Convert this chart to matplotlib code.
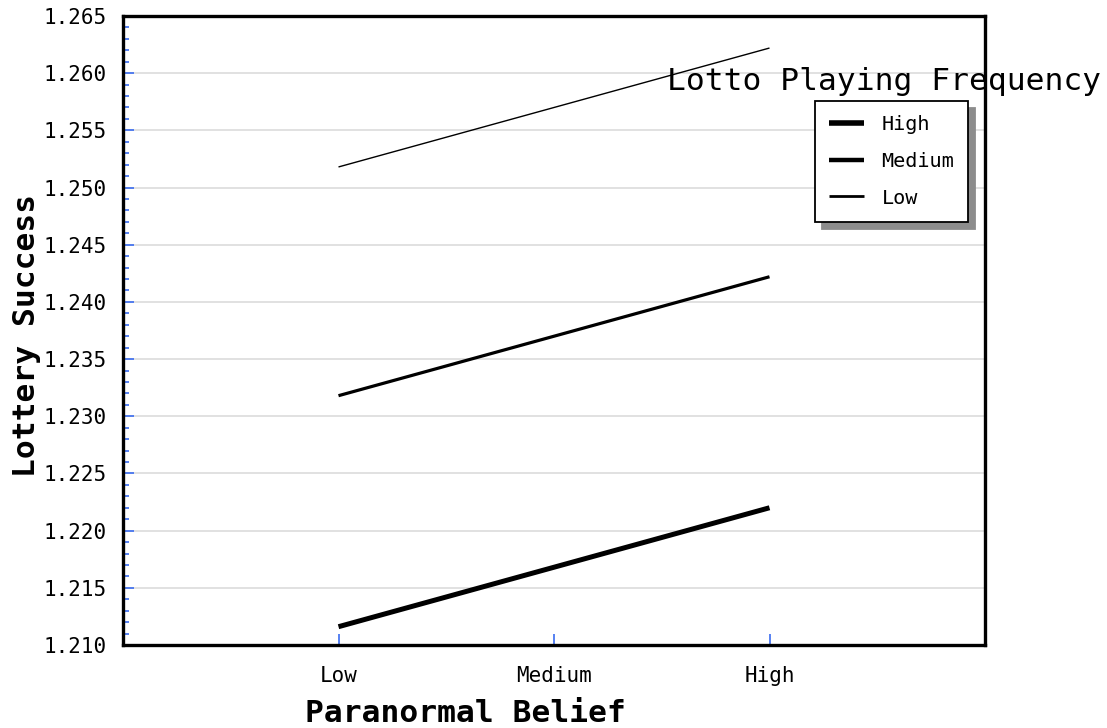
import matplotlib
matplotlib.use("Agg")
import matplotlib.pyplot as plt
from matplotlib.ticker import MultipleLocator, FormatStrFormatter

# Predicted lottery success by paranormal belief, per lotto playing frequency
belief_levels = ["Low", "Medium", "High"]
freq_high = [1.2116, 1.2168, 1.2220]
freq_medium = [1.2318, 1.2370, 1.2422]
freq_low = [1.2518, 1.2570, 1.2622]

series = [
    ("High", freq_high, 3.6),
    ("Medium", freq_medium, 2.3),
    ("Low", freq_low, 1.0),
]

mono = "DejaVu Sans Mono"
fig = plt.figure(figsize=(11.07, 7.28), dpi=100)
ax = fig.add_axes([123 / 1107, 83 / 728, 862 / 1107, 629 / 728])

xpos = list(range(len(belief_levels)))
for name, vals, lw in series:
    ax.plot(xpos, vals, color="black", lw=lw, label=name,
            solid_capstyle="butt")

ax.set_xlim(-1, 3)
ax.set_ylim(1.210, 1.265)
ax.yaxis.set_major_locator(MultipleLocator(0.005))
ax.yaxis.set_minor_locator(MultipleLocator(0.001))
ax.yaxis.set_major_formatter(FormatStrFormatter("%.3f"))
ax.set_xticks(xpos)
ax.set_xticklabels(belief_levels)

ax.grid(axis="y", which="major", color="#dcdcdc", lw=1.2)
ax.set_axisbelow(True)

ax.tick_params(axis="both", which="major", direction="in", color="#3a6cf0",
               length=8, width=1.2, labelsize=15, pad=12)
ax.tick_params(axis="y", which="minor", direction="in", color="#3a6cf0",
               length=4.5, width=1.2)
ax.tick_params(axis="x", pad=15)
for lab in ax.get_xticklabels() + ax.get_yticklabels():
    lab.set_family(mono)

for sp in ax.spines.values():
    sp.set_linewidth(2.4)
    sp.set_color("black")

# Axis titles
fig.text(465 / 1107, 1 - 713 / 728, "Paranormal Belief", family=mono,
         fontweight="bold", fontsize=22.5, ha="center", va="center")
fig.text(27 / 1107, 1 - 335 / 728, "Lottery Success", family=mono,
         fontweight="bold", fontsize=22.5, ha="center", va="center",
         rotation=90)

fig.text(884 / 1107, 1 - 82 / 728, "Lotto Playing Frequency", family=mono,
         fontsize=22.5, ha="center", va="center")

leg = ax.legend(loc="upper left", bbox_to_anchor=(815 / 1107, 1 - 101 / 728),
                bbox_transform=fig.transFigure, borderaxespad=0,
                prop={"family": mono, "size": 14.5}, frameon=True,
                fancybox=False, framealpha=1, edgecolor="black",
                handlelength=1.75, handletextpad=0.85, labelspacing=0.88,
                borderpad=0.7,
                shadow={"ox": 5, "oy": -5, "color": "0.55", "alpha": 1})
leg.get_frame().set_linewidth(1.3)
for h, w in zip(leg.get_lines(), [4.0, 3.2, 2.0]):
    h.set_linewidth(w)

fig.savefig("out.png", dpi=100)
